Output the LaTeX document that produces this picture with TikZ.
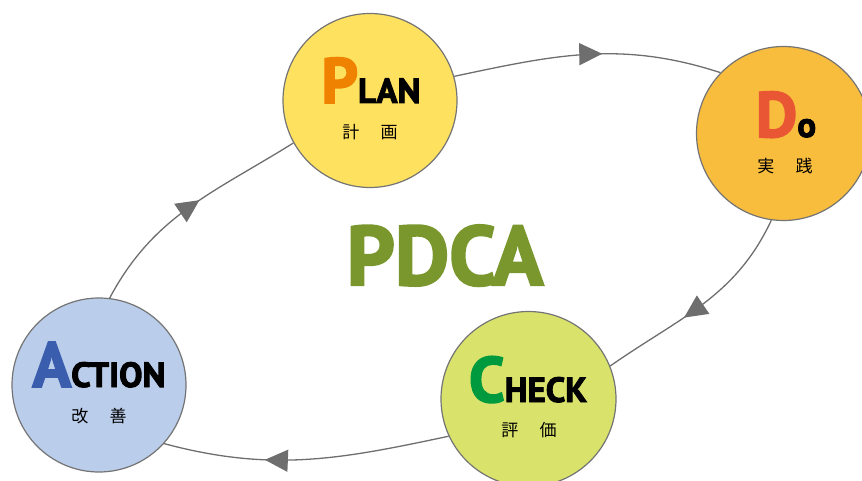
\documentclass[tikz,border=0pt]{standalone}
\usepackage{fontspec}
\setmainfont{PT Sans}
\newfontfamily\heavyfont{PT Sans}[BoldFont=* Bold, BoldFeatures={FakeBold=2.6}]
\newfontfamily\jpfont{Noto Sans CJK JP}
\usetikzlibrary{arrows.meta,decorations.markings}

\definecolor{plancol}{HTML}{FFE160}
\definecolor{docol}{HTML}{F9BD3E}
\definecolor{checkcol}{HTML}{D9E26A}
\definecolor{actcol}{HTML}{BACDEA}
\definecolor{pcol}{HTML}{EF8200}
\definecolor{dcol}{HTML}{E85634}
\definecolor{ccol}{HTML}{009A3E}
\definecolor{acol}{HTML}{3A5EAD}
\definecolor{pdcacol}{HTML}{7A972D}
\definecolor{rimcol}{HTML}{747474}
\definecolor{linkcol}{HTML}{6E6E6E}

\newcommand{\bigfs}{\fontsize{64}{64}\selectfont}
\newcommand{\smallfs}{\fontsize{35}{35}\selectfont}

\tikzset{
  stage/.style={circle, draw=rimcol, line width=1.2pt, minimum size=174pt, inner sep=0pt},
  title/.style={anchor=base, inner sep=0pt, font=\heavyfont\bfseries},
  kanji/.style={anchor=center, inner sep=0pt, font=\jpfont\fontsize{17}{17}\selectfont},
  link/.style={draw=linkcol, line width=1.3pt,
    postaction={decorate, decoration={markings,
      mark=at position #1 with {\arrow[linkcol]{Triangle[length=23pt,width=22pt]}}}}},
}

\begin{document}
\begin{tikzpicture}[x=1pt,y=-1pt]
\useasboundingbox (0,0) rectangle (862,481);
\begin{scope}
\clip (0,0) rectangle (862,481);

% the four stages
\node[stage, fill=plancol]  (plan)   at (370,100.5) {};
\node[stage, fill=docol]    (do)     at (783.5,133.5) {};
\node[stage, fill=checkcol, minimum size=175pt] (check) at (528.5,399) {};
\node[stage, fill=actcol]   (action) at (99,385) {};

% cycle arcs between the stages
\path[link=0.555] (plan.16)   to[out=12,  in=162] (do.136);
\path[link=0.60]  (do.262)    to[out=245, in=35]  (check.22);
\path[link=0.645] (check.205) to[out=192, in=-15] (action.318);
\path[link=0.55]  (action.83) to[out=62,  in=212] (plan.209);

% stage titles
\node[title] (plantxt)  at (371,103) {\bigfs\textcolor{pcol}{P}\smallfs LAN};
\node[title] (dotxt)    at (786,137) {\bigfs\textcolor{dcol}{D}\smallfs o};
\node[title] (checktxt) at (528,402) {\bigfs\textcolor{ccol}{C}\smallfs HECK};
\node[title] (acttxt)   at (99,387)  {\bigfs\textcolor{acol}{A}\smallfs CTION};

% japanese captions
\node[kanji] (plank)  at (370,132) {計\hspace{1.25em}画};
\node[kanji] (dok)    at (785,166) {実\hspace{1.25em}践};
\node[kanji] (checkk) at (529,430) {評\hspace{1.25em}価};
\node[kanji] (actk)   at (99,416)  {改\hspace{1.25em}善};

% centre label
\node[anchor=base, inner sep=0pt, text=pdcacol, font=\heavyfont\bfseries\fontsize{84}{84}\selectfont] (pdca) at (445,285) {PDCA};

\end{scope}
\end{tikzpicture}
\end{document}
